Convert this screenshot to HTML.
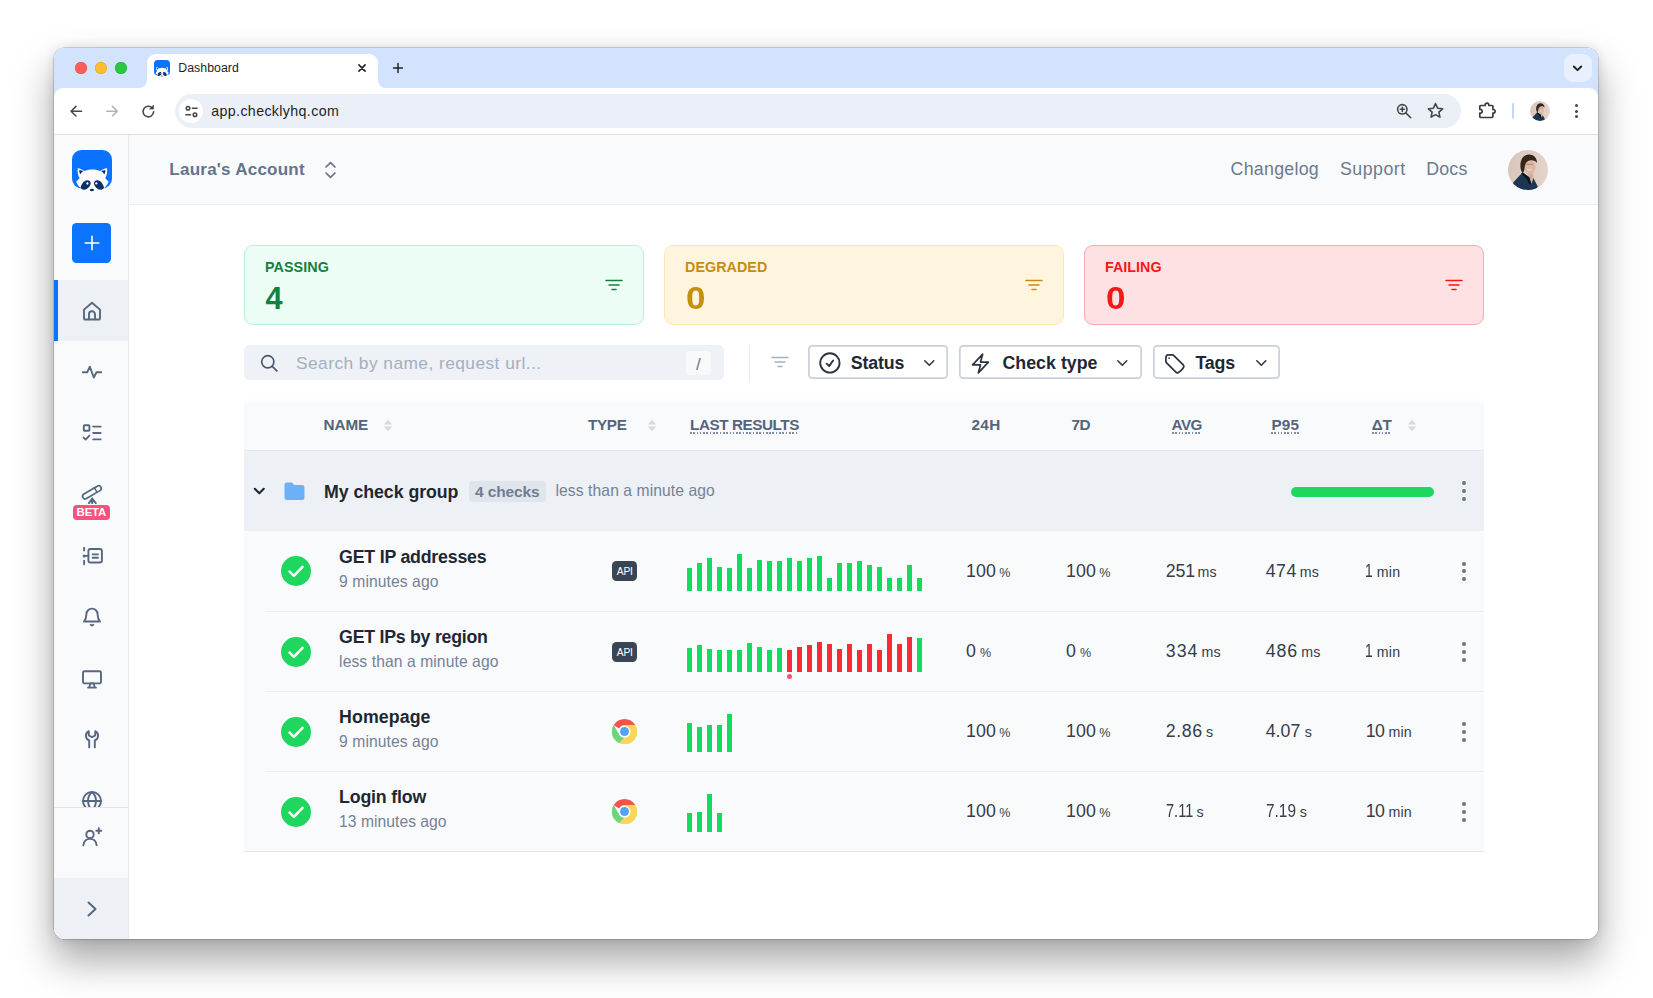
<!DOCTYPE html><html><head><meta charset="utf-8"><title>Dashboard</title><style>

*{box-sizing:border-box;margin:0;padding:0}
html,body{width:1653px;height:998px;overflow:hidden;background:#fff;font-family:"Liberation Sans", sans-serif;}
body{position:relative}
body>div,body>svg,body>span,.a{position:absolute}
.t{position:absolute;white-space:nowrap;line-height:1;}

</style></head><body>
<div style="left:54px;top:48px;width:1544px;height:891px;border-radius:11px;background:#fff;box-shadow:0 0 0 0.5px rgba(0,0,0,.28),0 21px 38px 1px rgba(0,0,0,.34),0 0 12px rgba(0,0,0,.12);"></div>
<div style="left:54px;top:48px;width:1544px;height:891px;border-radius:11px;overflow:hidden;background:#fff;"><div class="a" id="win" style="left:-54px;top:-48px;width:1653px;height:998px;">
<div class="a" style="left:54px;top:47px;width:1544px;height:55px;background:#d3e3fd;"></div>
<div class="a" style="left:54px;top:88px;width:1544px;height:46px;background:#fff;border-radius:9px 9px 0 0;"></div>
<div class="a" style="left:54px;top:134px;width:1544px;height:1px;background:#dddfe3;"></div>
<div class="a" style="left:75px;top:62px;width:12px;height:12px;border-radius:50%;background:#fe5f57;box-shadow:inset 0 0 0 .5px #e2463f;"></div>
<div class="a" style="left:95px;top:62px;width:12px;height:12px;border-radius:50%;background:#febc2e;box-shadow:inset 0 0 0 .5px #dfa023;"></div>
<div class="a" style="left:115px;top:62px;width:12px;height:12px;border-radius:50%;background:#28c840;box-shadow:inset 0 0 0 .5px #1dab2f;"></div>
<div class="a" style="left:146.5px;top:54px;width:231.5px;height:34px;background:#fff;border-radius:9px 9px 0 0;"></div>
<svg class="a" style="left:138.5px;top:80px;" width="8" height="8" viewBox="0 0 8 8" fill="none"><path d="M8 0v8H0a8 8 0 0 0 8-8z" fill="#fff"/></svg>
<svg class="a" style="left:378px;top:80px;" width="8" height="8" viewBox="0 0 8 8" fill="none"><path d="M0 0v8h8a8 8 0 0 1-8-8z" fill="#fff"/></svg>
<svg class="a" style="left:154px;top:60px;" width="16" height="16.8" viewBox="0 0 40 42" fill="none"><rect width="40" height="38.3" rx="9.5" fill="#0b72ff"/>
<path d="M5.600 18.200C7.500 18 10.500 19.600 12.200 21c2.300-1.100 5.100-1.600 8.100-1.600s5.800.5 8.100 1.600c1.700-1.400 4.700-3 6.600-2.800.6 3.300-.2 7.300-1.800 10l3.400 3.600c-1.100 2.700-2.800 5-4.800 6.800l-7.100 3.700h-8.400l-7.300-3.700c-2-1.800-3.700-4.100-4.800-6.800l3.400-3.600c-1.600-2.700-2.400-6.700-1.800-10z" fill="#fff"/>
<path d="M7.300 19.900l4.300 1c-1.600.9-2.600 2.100-3.300 3.400-.8-1.300-1.100-2.900-1-4.400zM33.300 19.900l-4.300 1c1.600.9 2.600 2.100 3.300 3.400.8-1.300 1.100-2.900 1-4.400z" fill="#0a2f6b"/>
<path d="M8.500 37.900c.7-3.800 3.400-7.500 6.800-7.700 2.100-.1 3.500 1.400 3.400 3.300-.2 2.500-2.700 4.700-4.900 6.100l-2.900.1zM32.100 37.900c-.7-3.800-3.400-7.500-6.800-7.700-2.100-.1-3.500 1.400-3.400 3.300.2 2.500 2.700 4.700 4.900 6.100l2.900.1z" fill="#0a2f6b"/>
<circle cx="15.400" cy="33.500" r="1.150" fill="#fff"/><circle cx="24.300" cy="33.400" r="1.150" fill="#fff"/>
<ellipse cx="19.900" cy="40.100" rx="2.100" ry="1.250" fill="#0a2f6b"/></svg>
<svg class="a" style="left:357.2px;top:63.3px;" width="10" height="10" viewBox="0 0 12 12" fill="none"><path d="M2.300 2.300l7.400 7.400M9.700 2.300l-7.400 7.400" stroke="#1f1f1f" stroke-width="1.900" stroke-linecap="round"/></svg>
<svg class="a" style="left:392px;top:62.1px;" width="12" height="12" viewBox="0 0 14 14" fill="none"><path d="M7 1.800v10.400M1.800 7h10.400" stroke="#1f1f1f" stroke-width="1.700" stroke-linecap="round"/></svg>
<div class="a" style="left:1564px;top:54px;width:28px;height:28px;border-radius:9px;background:#e8effd;"></div>
<svg class="a" style="left:1572.3px;top:63.7px;" width="11" height="9" viewBox="0 0 11 9" fill="none"><path d="M1.800 2.500L5.500 6.200 9.200 2.500" stroke="#1f1f1f" stroke-width="1.900" stroke-linecap="round" stroke-linejoin="round"/></svg>
<svg class="a" style="left:68.8px;top:103.8px;" width="14.4" height="14.4" viewBox="0 0 16 16" fill="none"><path d="M14 8H2.500M7.700 2.600L2.300 8l5.400 5.400" stroke="#474747" stroke-width="1.700" stroke-linecap="round" stroke-linejoin="round"/></svg>
<svg class="a" style="left:104.6px;top:103.8px;" width="14.4" height="14.4" viewBox="0 0 16 16" fill="none"><path d="M2 8h11.500M8.300 2.600L13.700 8l-5.400 5.400" stroke="#b4b4b4" stroke-width="1.700" stroke-linecap="round" stroke-linejoin="round"/></svg>
<svg class="a" style="left:139.7px;top:102.6px;" width="17" height="17" viewBox="0 0 18 18" fill="none"><path d="M14.400 9.300A5.600 5.600 0 1 1 12.700 5" stroke="#474747" stroke-width="1.700" stroke-linecap="round" stroke-linejoin="round"/><path d="M14.300 2.300v4.100h-4.100z" fill="#474747" stroke="#474747" stroke-width=".8" stroke-linejoin="round"/></svg>
<div class="a" style="left:175px;top:94px;width:1285.5px;height:34px;border-radius:17px;background:#eaeff8;"></div>
<div class="a" style="left:179px;top:99px;width:24px;height:24px;border-radius:50%;background:#fff;"></div>
<svg class="a" style="left:183.5px;top:103.5px;" width="15" height="15" viewBox="0 0 16 16" fill="none"><g stroke="#474747" stroke-width="1.650" stroke-linecap="round"><circle cx="4.300" cy="4.600" r="1.900"/><path d="M9 4.600h5"/><circle cx="11.700" cy="11.400" r="1.900"/><path d="M2 11.400h5"/></g></svg>
<svg class="a" style="left:1395px;top:102px;" width="18" height="18" viewBox="0 0 18 18" fill="none"><g stroke="#474747" stroke-width="1.600" stroke-linecap="round"><circle cx="7.300" cy="7.300" r="4.700"/><path d="M10.900 10.900l4.800 4.800M7.300 5.200v4.200M5.200 7.300h4.200"/></g></svg>
<svg class="a" style="left:1426px;top:101px;" width="19" height="19" viewBox="0 0 19 19" fill="none"><path d="M9.500 2.600l2.100 4.600 5 .6-3.700 3.400 1 4.900-4.400-2.500-4.400 2.500 1-4.900L2.400 7.800l5-.6z" stroke="#474747" stroke-width="1.600" stroke-linejoin="round"/></svg>
<svg class="a" style="left:1477px;top:101px;" width="20" height="20" viewBox="0 0 20 20" fill="none"><path d="M8.200 3.900a1.800 1.800 0 0 1 3.600 0v.6h3.200a.9.900 0 0 1 .9.900v3.100h.4a1.800 1.800 0 0 1 0 3.600h-.4v3.500a.9.900 0 0 1-.9.900H3.700a.9.900 0 0 1-.9-.9v-3.400h.5a1.900 1.900 0 0 0 0-3.800h-.5V5.400a.9.900 0 0 1 .9-.9h4.500z" stroke="#3c3c3c" stroke-width="1.700" stroke-linejoin="round"/></svg>
<div class="a" style="left:1512px;top:103px;width:1.5px;height:16px;background:#c6d7f5;border-radius:1px;"></div>
<svg class="a" style="left:1530px;top:101px;" width="20" height="20" viewBox="0 0 40 40" fill="none"><defs><clipPath id="c1"><circle cx="20" cy="20" r="20"/></clipPath><linearGradient id="gc1" x1="0" x2="1" y1="0" y2="0"><stop offset="0" stop-color="#d9c6bb"/><stop offset="1" stop-color="#e4d4ca"/></linearGradient><filter id="fc1" x="-10%" y="-10%" width="120%" height="120%"><feGaussianBlur stdDeviation=".45"/></filter></defs>
<g clip-path="url(#c1)"><rect width="40" height="40" fill="url(#gc1)"/><g filter="url(#fc1)">
<path d="M3 35L14.400 22.500l6.800 4.900 2.100 6.300 2.100-5.700 4.400 8.500L27 42H3z" fill="#1d3551"/>
<path d="M19.300 21.500l5.300.8.800 5.700-2.100 5.700-2.100-6.300z" fill="#d7ab99"/>
<path d="M13.400 23.600l1.200-1.300 6.800 4.900 1.900 6.300-1.300 1.600-4-6.600z" fill="#10181f"/>
<ellipse cx="21.400" cy="16.600" rx="6.200" ry="7.700" fill="#deb6a5"/>
<path d="M12.700 19c-1.400-7.200 1.600-14.200 7.600-14.600 5.400-.2 8.900 3.600 8.700 8.600-1.300-1.900-3.600-2.900-6.200-2.700-3.200.3-5.500 2.500-6 5.900-.3 3-.7 5.400-1.900 6.700-1-.8-1.900-2.300-2.200-3.900z" fill="#36271f"/>
<path d="M17.600 14.300h7.600" stroke="#7a5548" stroke-width=".9" opacity=".5"/><path d="M18.900 19.300q2.600 1.700 4.900 0" stroke="#fff" stroke-width="1" opacity=".65" fill="none"/>
</g></g></svg>
<div class="a" style="left:1574.5px;top:103.7px;width:3px;height:3px;border-radius:50%;background:#474747;"></div>
<div class="a" style="left:1574.5px;top:109.5px;width:3px;height:3px;border-radius:50%;background:#474747;"></div>
<div class="a" style="left:1574.5px;top:115.3px;width:3px;height:3px;border-radius:50%;background:#474747;"></div>
<div class="a" style="left:54px;top:135px;width:74px;height:804px;background:#f8fafc;"></div>
<div class="a" style="left:128px;top:135px;width:1px;height:804px;background:#e5e8ec;"></div>
<svg class="a" style="left:71.5px;top:150px;" width="40" height="42" viewBox="0 0 40 42" fill="none"><rect width="40" height="38.3" rx="9.5" fill="#0b72ff"/>
<path d="M5.600 18.200C7.500 18 10.500 19.600 12.200 21c2.300-1.100 5.100-1.600 8.100-1.600s5.800.5 8.100 1.600c1.700-1.400 4.700-3 6.600-2.800.6 3.300-.2 7.300-1.800 10l3.400 3.600c-1.100 2.700-2.800 5-4.800 6.800l-7.100 3.700h-8.400l-7.300-3.700c-2-1.800-3.700-4.100-4.800-6.800l3.400-3.600c-1.600-2.700-2.400-6.700-1.800-10z" fill="#fff"/>
<path d="M7.300 19.900l4.300 1c-1.600.9-2.600 2.100-3.300 3.400-.8-1.300-1.100-2.900-1-4.400zM33.300 19.900l-4.300 1c1.600.9 2.600 2.100 3.300 3.400.8-1.300 1.100-2.900 1-4.400z" fill="#0a2f6b"/>
<path d="M8.500 37.900c.7-3.800 3.400-7.500 6.800-7.700 2.100-.1 3.500 1.400 3.400 3.300-.2 2.500-2.700 4.700-4.900 6.100l-2.900.1zM32.100 37.900c-.7-3.800-3.400-7.500-6.800-7.700-2.100-.1-3.500 1.400-3.400 3.300.2 2.500 2.700 4.700 4.900 6.100l2.900.1z" fill="#0a2f6b"/>
<circle cx="15.400" cy="33.500" r="1.150" fill="#fff"/><circle cx="24.300" cy="33.400" r="1.150" fill="#fff"/>
<ellipse cx="19.900" cy="40.100" rx="2.100" ry="1.250" fill="#0a2f6b"/></svg>
<div class="a" style="left:72px;top:223px;width:39px;height:40px;border-radius:4.5px;background:#0b74ff;"></div>
<svg class="a" style="left:83.5px;top:235px;" width="16" height="16" viewBox="0 0 16 16" fill="none"><path d="M8 1.200v13.600M1.200 8h13.600" stroke="#fff" stroke-width="1.600" stroke-linecap="round"/></svg>
<div class="a" style="left:54px;top:280px;width:74px;height:61px;background:#edf0f4;"></div>
<div class="a" style="left:54px;top:280px;width:4px;height:61px;background:#0b74ff;"></div>
<svg class="a" style="left:80.7px;top:299.7px;" width="22" height="22" viewBox="0 0 22 22" fill="none"><path d="M3 9.600L11 2.800l8 6.800v8.300a1.600 1.600 0 0 1-1.600 1.600H4.600A1.600 1.600 0 0 1 3 17.900z" stroke="#576780" stroke-width="1.900" stroke-linecap="round" stroke-linejoin="round"/><path d="M8 19.300v-5.100a3 3 0 0 1 6 0v5.100" stroke="#576780" stroke-width="1.900" stroke-linecap="round" stroke-linejoin="round"/></svg>
<svg class="a" style="left:80.7px;top:361.0px;" width="22" height="22" viewBox="0 0 22 22" fill="none"><path d="M1.800 11.300h4.400l2.600-5.600 4 10.800 2.700-5.200h4.700" stroke="#576780" stroke-width="1.900" stroke-linecap="round" stroke-linejoin="round"/></svg>
<svg class="a" style="left:80.7px;top:422.3px;" width="22" height="22" viewBox="0 0 22 22" fill="none"><rect x="2.800" y="3.200" width="5.600" height="5.600" rx=".8" stroke="#576780" stroke-width="1.900" stroke-linecap="round" stroke-linejoin="round"/><path d="M2.600 15.600l2 2 3.800-4M12.200 4.600h7.400M12.200 11h7.400M12.200 17.400h7.400" stroke="#576780" stroke-width="1.900" stroke-linecap="round" stroke-linejoin="round"/></svg>
<svg class="a" style="left:80.7px;top:481.5px;" width="22" height="22" viewBox="0 0 22 22" fill="none"><path d="M4.200 14.300L17.600 6.400" stroke="#576780" stroke-width="6.900" stroke-linecap="round"/><path d="M4.200 14.300L17.600 6.400" stroke="#f8fafc" stroke-width="3.500" stroke-linecap="round"/><path d="M13.300 5.600l2.500 4.300" stroke="#576780" stroke-width="1.500" stroke-linecap="round"/><path d="M11.200 16.400v5.100M11.200 16.600l-3.300 4.500M11.200 16.600l3.600 4.500" stroke="#576780" stroke-width="1.900" stroke-linecap="round" stroke-linejoin="round"/></svg>
<div class="a" style="left:73px;top:505px;width:37px;height:14.5px;border-radius:4px;background:#f8507f;"></div>
<svg class="a" style="left:80.7px;top:544.8px;" width="22" height="22" viewBox="0 0 22 22" fill="none"><rect x="7.400" y="4" width="13.500" height="13.500" rx="2" stroke="#576780" stroke-width="1.900" stroke-linecap="round" stroke-linejoin="round"/><path d="M11.700 9.400h5.300M11.700 12.700h5.300M3.100 2.800v2.800M3.100 15.600v3.600M4 10.900h3.400" stroke="#576780" stroke-width="1.900" stroke-linecap="round" stroke-linejoin="round"/><circle cx="3.100" cy="10.900" r="1.500" fill="#576780"/></svg>
<svg class="a" style="left:80.7px;top:605.7px;" width="22" height="22" viewBox="0 0 22 22" fill="none"><path d="M11 2.600a5.600 5.600 0 0 0-5.600 5.600c0 3.900-1.200 5.800-2.400 7.300h16c-1.200-1.500-2.400-3.400-2.400-7.300A5.600 5.600 0 0 0 11 2.600z" stroke="#576780" stroke-width="1.900" stroke-linecap="round" stroke-linejoin="round"/><path d="M9.800 18.800a1.400 1.400 0 0 0 2.400 0" stroke="#576780" stroke-width="1.900" stroke-linecap="round" stroke-linejoin="round"/></svg>
<svg class="a" style="left:80.7px;top:667.6px;" width="22" height="22" viewBox="0 0 22 22" fill="none"><rect x="2" y="3.200" width="18" height="12.200" rx="1.500" stroke="#576780" stroke-width="1.900" stroke-linecap="round" stroke-linejoin="round"/><path d="M8.200 19.600l1.200-4.200h3.200l1.200 4.200zM7 19.600h8" stroke="#576780" stroke-width="1.900" stroke-linecap="round" stroke-linejoin="round"/></svg>
<svg class="a" style="left:80.7px;top:727.8px;" width="22" height="22" viewBox="0 0 22 22" fill="none"><path d="M7.800 3.200a5 5 0 0 0 .4 9.200v7M14.200 3.200a5 5 0 0 1-.4 9.200v7M7.800 3.200v4.300l3.200 1.700 3.200-1.700V3.200" stroke="#576780" stroke-width="1.900" stroke-linecap="round" stroke-linejoin="round"/></svg>
<div class="a" style="left:54px;top:780px;width:74px;height:27px;overflow:hidden;">
<svg class="a" style="left:26.700000000000003px;top:10px;" width="22" height="22" viewBox="0 0 22 22" fill="none"><circle cx="11" cy="11" r="9" stroke="#576780" stroke-width="1.900" stroke-linecap="round" stroke-linejoin="round"/><path d="M2 11h18M11 2c2.800 2.400 4 5.600 4 9s-1.200 6.600-4 9c-2.800-2.400-4-5.600-4-9s1.200-6.600 4-9z" stroke="#576780" stroke-width="1.900" stroke-linecap="round" stroke-linejoin="round"/></svg>
</div>
<div class="a" style="left:54px;top:807px;width:74px;height:1px;background:#e2e6ea;"></div>
<svg class="a" style="left:80.7px;top:826.3px;" width="22" height="22" viewBox="0 0 22 22" fill="none"><circle cx="9" cy="8.400" r="3.700" stroke="#576780" stroke-width="1.900" stroke-linecap="round" stroke-linejoin="round"/><path d="M2.400 19.200c.5-4 3.200-6.300 6.600-6.300s6.100 2.300 6.600 6.300M17.800 2.200v5M15.300 4.700h5" stroke="#576780" stroke-width="1.900" stroke-linecap="round" stroke-linejoin="round"/></svg>
<div class="a" style="left:54px;top:878px;width:74px;height:61px;background:#edf0f4;"></div>
<svg class="a" style="left:86.4px;top:900.4px;" width="12" height="18" viewBox="0 0 12 18" fill="none"><path d="M2.500 2.500L9.500 9l-7 6.500" stroke="#576780" stroke-width="2" stroke-linecap="round" stroke-linejoin="round"/></svg>
<div class="a" style="left:129px;top:135px;width:1469px;height:69px;background:#f9fafb;"></div>
<div class="a" style="left:129px;top:204px;width:1469px;height:1px;background:#eceef1;"></div>
<svg class="a" style="left:324px;top:160px;" width="13" height="20" viewBox="0 0 13 20" fill="none"><path d="M2 7l4.500-4.300L11 7M2 13l4.500 4.300L11 13" stroke="#64748b" stroke-width="1.700" stroke-linecap="round" stroke-linejoin="round"/></svg>
<svg class="a" style="left:1508px;top:150px;" width="40" height="40" viewBox="0 0 40 40" fill="none"><defs><clipPath id="c2"><circle cx="20" cy="20" r="20"/></clipPath><linearGradient id="gc2" x1="0" x2="1" y1="0" y2="0"><stop offset="0" stop-color="#d9c6bb"/><stop offset="1" stop-color="#e4d4ca"/></linearGradient><filter id="fc2" x="-10%" y="-10%" width="120%" height="120%"><feGaussianBlur stdDeviation=".45"/></filter></defs>
<g clip-path="url(#c2)"><rect width="40" height="40" fill="url(#gc2)"/><g filter="url(#fc2)">
<path d="M3 35L14.400 22.500l6.800 4.900 2.100 6.300 2.100-5.700 4.400 8.500L27 42H3z" fill="#1d3551"/>
<path d="M19.300 21.500l5.300.8.800 5.700-2.100 5.700-2.100-6.300z" fill="#d7ab99"/>
<path d="M13.400 23.600l1.200-1.300 6.800 4.900 1.900 6.300-1.300 1.600-4-6.600z" fill="#10181f"/>
<ellipse cx="21.400" cy="16.600" rx="6.200" ry="7.700" fill="#deb6a5"/>
<path d="M12.700 19c-1.400-7.200 1.600-14.200 7.600-14.600 5.400-.2 8.900 3.600 8.700 8.600-1.300-1.900-3.600-2.900-6.200-2.700-3.200.3-5.500 2.500-6 5.900-.3 3-.7 5.400-1.900 6.700-1-.8-1.900-2.300-2.200-3.900z" fill="#36271f"/>
<path d="M17.600 14.300h7.600" stroke="#7a5548" stroke-width=".9" opacity=".5"/><path d="M18.900 19.300q2.600 1.700 4.900 0" stroke="#fff" stroke-width="1" opacity=".65" fill="none"/>
</g></g></svg>
<div class="a" style="left:244px;top:245px;width:400px;height:80px;border-radius:9px;background:#ecfdf5;border:1px solid #bdeed6;"></div>
<svg class="a" style="left:605px;top:278.5px;" width="18" height="12" viewBox="0 0 18 12" fill="none"><path d="M1 1.500h16M4 6h10M7 10.500h4" stroke="#15803d" stroke-width="1.5" stroke-linecap="round"/></svg>
<div class="a" style="left:664px;top:245px;width:400px;height:80px;border-radius:9px;background:#fff5df;border:1px solid #fde7ae;"></div>
<svg class="a" style="left:1025px;top:278.5px;" width="18" height="12" viewBox="0 0 18 12" fill="none"><path d="M1 1.500h16M4 6h10M7 10.500h4" stroke="#c68e0e" stroke-width="1.5" stroke-linecap="round"/></svg>
<div class="a" style="left:1084px;top:245px;width:400px;height:80px;border-radius:9px;background:#fee2e3;border:1px solid #f9a8ab;"></div>
<svg class="a" style="left:1445px;top:278.5px;" width="18" height="12" viewBox="0 0 18 12" fill="none"><path d="M1 1.500h16M4 6h10M7 10.500h4" stroke="#f91616" stroke-width="1.5" stroke-linecap="round"/></svg>
<div class="a" style="left:244px;top:345px;width:479.5px;height:35.2px;border-radius:5px;background:#eef1f5;"></div>
<svg class="a" style="left:259px;top:352.7px;" width="20" height="20" viewBox="0 0 20 20" fill="none"><circle cx="8.800" cy="8.800" r="6.100" stroke="#4b5a70" stroke-width="1.700"/><path d="M13.600 13.600l4.200 4.200" stroke="#4b5a70" stroke-width="1.700" stroke-linecap="round"/></svg>
<div class="a" style="left:686px;top:350.5px;width:25px;height:24.5px;border-radius:4px;background:#f8f9fb;"></div>
<div class="a" style="left:749px;top:345px;width:1px;height:36px;background:#e9ecef;"></div>
<svg class="a" style="left:770.6px;top:356.3px;" width="18" height="12" viewBox="0 0 18 12" fill="none"><path d="M1 1.500h16M4 6h10M7 10.500h4" stroke="#a5afbd" stroke-width="1.4" stroke-linecap="round"/></svg>
<div class="a" style="left:808.2px;top:345.3px;width:139.8px;height:34px;border-radius:4.500px;background:#fff;box-shadow:inset 0 0 0 1.700px #c9d0da;"></div>
<div class="a" style="left:958.9px;top:345.3px;width:183.6px;height:34px;border-radius:4.500px;background:#fff;box-shadow:inset 0 0 0 1.700px #c9d0da;"></div>
<div class="a" style="left:1153px;top:345.3px;width:126.6px;height:34px;border-radius:4.500px;background:#fff;box-shadow:inset 0 0 0 1.700px #c9d0da;"></div>
<svg class="a" style="left:817.1px;top:350.20000000000005px;" width="25.8" height="25.8" viewBox="0 0 24 24" fill="none"><path d="M9 12.750L11.250 15 15 9.750M21 12a9 9 0 1 1-18 0 9 9 0 0 1 18 0z" stroke="#2a3340" stroke-width="1.750" stroke-linecap="round" stroke-linejoin="round"/></svg>
<svg class="a" style="left:969.4px;top:351.7px;" width="23" height="23" viewBox="0 0 24 24" fill="none"><path d="M3.750 13.500l10.500-11.250L12 10.500h8.250L9.750 21.750 12 13.500H3.750z" stroke="#2a3340" stroke-width="1.750" stroke-linecap="round" stroke-linejoin="round"/></svg>
<svg class="a" style="left:1163.2px;top:351.5px;" width="23.4" height="23.4" viewBox="0 0 24 24" fill="none"><path d="M9.568 3H5.250A2.250 2.250 0 0 0 3 5.250v4.318c0 .597.237 1.170.659 1.591l9.581 9.581c.699.699 1.780.872 2.607.330a18.095 18.095 0 0 0 5.223-5.223c.542-.827.369-1.908-.330-2.607L11.160 3.660A2.250 2.250 0 0 0 9.568 3z" stroke="#2a3340" stroke-width="1.750" stroke-linecap="round" stroke-linejoin="round"/><circle cx="6.200" cy="6.200" r=".9" fill="#2a3340"/></svg>
<svg class="a" style="left:923.2px;top:358.7px;" width="12.6" height="8.1" viewBox="0 0 14 9" fill="none"><path d="M2 2l5 5 5-5" stroke="#2a3340" stroke-width="1.7" stroke-linecap="round" stroke-linejoin="round"/></svg>
<svg class="a" style="left:1116.0px;top:358.7px;" width="12.6" height="8.1" viewBox="0 0 14 9" fill="none"><path d="M2 2l5 5 5-5" stroke="#2a3340" stroke-width="1.7" stroke-linecap="round" stroke-linejoin="round"/></svg>
<svg class="a" style="left:1254.5px;top:358.7px;" width="12.6" height="8.1" viewBox="0 0 14 9" fill="none"><path d="M2 2l5 5 5-5" stroke="#2a3340" stroke-width="1.7" stroke-linecap="round" stroke-linejoin="round"/></svg>
<div class="a" style="left:244px;top:398px;width:1240px;height:52px;background:linear-gradient(#fff,#f9fafc 5px,#f9fafc);"></div>
<div class="a" style="left:244px;top:450px;width:1240px;height:1px;background:#e3e7ec;"></div>
<svg class="a" style="left:383px;top:418.5px;" width="10" height="13" viewBox="0 0 10 13" fill="none"><path d="M5 .8L9.300 5.600H.7zM5 12.200L9.300 7.400H.7z" fill="#d6dbe2"/></svg>
<svg class="a" style="left:647px;top:418.5px;" width="10" height="13" viewBox="0 0 10 13" fill="none"><path d="M5 .8L9.300 5.600H.7zM5 12.200L9.300 7.400H.7z" fill="#d6dbe2"/></svg>
<div class="a" style="left:690px;top:432.3px;width:109px;height:1.5px;background:repeating-linear-gradient(90deg,#7f8da1 0 1.600px,transparent 1.600px 3.300px);"></div>
<div class="a" style="left:1171.6px;top:432.3px;width:30.3px;height:1.5px;background:repeating-linear-gradient(90deg,#7f8da1 0 1.600px,transparent 1.600px 3.300px);"></div>
<div class="a" style="left:1271.4px;top:432.3px;width:27.9px;height:1.5px;background:repeating-linear-gradient(90deg,#7f8da1 0 1.600px,transparent 1.600px 3.300px);"></div>
<div class="a" style="left:1371.8px;top:432.3px;width:19.2px;height:1.5px;background:repeating-linear-gradient(90deg,#7f8da1 0 1.600px,transparent 1.600px 3.300px);"></div>
<svg class="a" style="left:1407px;top:418.5px;" width="10" height="13" viewBox="0 0 10 13" fill="none"><path d="M5 .8L9.300 5.600H.7zM5 12.200L9.300 7.400H.7z" fill="#d6dbe2"/></svg>
<div class="a" style="left:244px;top:451px;width:1240px;height:80px;background:#edf0f4;"></div>
<svg class="a" style="left:252.7px;top:487.0px;" width="12.6" height="8.1" viewBox="0 0 14 9" fill="none"><path d="M2 2l5 5 5-5" stroke="#1f2733" stroke-width="2.3" stroke-linecap="round" stroke-linejoin="round"/></svg>
<svg class="a" style="left:283.5px;top:481.5px;" width="21" height="19" viewBox="0 0 21 19" fill="none"><path d="M.5 2.800A2.300 2.300 0 0 1 2.800.5h4.600a1.800 1.800 0 0 1 1.400.7l1.300 1.700h8.100a2.300 2.300 0 0 1 2.300 2.300v10.500a2.300 2.300 0 0 1-2.300 2.300H2.800a2.300 2.300 0 0 1-2.300-2.300z" fill="#6cb1f7"/></svg>
<div class="a" style="left:469.3px;top:481px;width:76.5px;height:21px;border-radius:4px;background:#e0e5eb;"></div>
<div class="a" style="left:1291px;top:486.8px;width:143.2px;height:10px;border-radius:5px;background:#1fd65f;"></div>
<div class="a" style="left:1461.7px;top:481.0px;width:4px;height:4px;border-radius:50%;background:#6b7280;"></div>
<div class="a" style="left:1461.7px;top:488.8px;width:4px;height:4px;border-radius:50%;background:#6b7280;"></div>
<div class="a" style="left:1461.7px;top:496.6px;width:4px;height:4px;border-radius:50%;background:#6b7280;"></div>
<div class="a" style="left:244px;top:531px;width:1240px;height:320px;background:#f9fafb;"></div>
<div class="a" style="left:265px;top:611px;width:1219px;height:1px;background:#ebedf0;"></div>
<div class="a" style="left:265px;top:691px;width:1219px;height:1px;background:#ebedf0;"></div>
<div class="a" style="left:265px;top:771px;width:1219px;height:1px;background:#ebedf0;"></div>
<div class="a" style="left:244px;top:851px;width:1240px;height:1px;background:#e4e7eb;"></div>
<svg class="a" style="left:281.3px;top:555.7px;" width="30" height="30" viewBox="0 0 30 30" fill="none"><circle cx="15" cy="15" r="15" fill="#1fd65f"/><path d="M8.600 15.600l4.300 4.300 8.600-9" stroke="#fff" stroke-width="2.600" stroke-linecap="round" stroke-linejoin="round"/></svg>
<div class="a" style="left:612px;top:561px;width:25px;height:20px;border-radius:4.500px;background:#3a4554;"></div>
<div class="a" style="left:687px;top:567.5px;width:5px;height:23.0px;background:#11dd5c;"></div>
<div class="a" style="left:697px;top:562.5px;width:5px;height:28.0px;background:#11dd5c;"></div>
<div class="a" style="left:707px;top:557.5px;width:5px;height:33.0px;background:#11dd5c;"></div>
<div class="a" style="left:717px;top:566.5px;width:5px;height:24.0px;background:#11dd5c;"></div>
<div class="a" style="left:727px;top:567.5px;width:5px;height:23.0px;background:#11dd5c;"></div>
<div class="a" style="left:737px;top:554.0px;width:5px;height:36.5px;background:#11dd5c;"></div>
<div class="a" style="left:747px;top:567.5px;width:5px;height:23.0px;background:#11dd5c;"></div>
<div class="a" style="left:757px;top:559.5px;width:5px;height:31.0px;background:#11dd5c;"></div>
<div class="a" style="left:767px;top:560.5px;width:5px;height:30.0px;background:#11dd5c;"></div>
<div class="a" style="left:777px;top:560.5px;width:5px;height:30.0px;background:#11dd5c;"></div>
<div class="a" style="left:787px;top:557.5px;width:5px;height:33.0px;background:#11dd5c;"></div>
<div class="a" style="left:797px;top:560.5px;width:5px;height:30.0px;background:#11dd5c;"></div>
<div class="a" style="left:807px;top:557.5px;width:5px;height:33.0px;background:#11dd5c;"></div>
<div class="a" style="left:817px;top:556.0px;width:5px;height:34.5px;background:#11dd5c;"></div>
<div class="a" style="left:827px;top:577.5px;width:5px;height:13.0px;background:#11dd5c;"></div>
<div class="a" style="left:837px;top:562.5px;width:5px;height:28.0px;background:#11dd5c;"></div>
<div class="a" style="left:847px;top:562.5px;width:5px;height:28.0px;background:#11dd5c;"></div>
<div class="a" style="left:857px;top:560.5px;width:5px;height:30.0px;background:#11dd5c;"></div>
<div class="a" style="left:867px;top:564.5px;width:5px;height:26.0px;background:#11dd5c;"></div>
<div class="a" style="left:877px;top:566.5px;width:5px;height:24.0px;background:#11dd5c;"></div>
<div class="a" style="left:887px;top:577.5px;width:5px;height:13.0px;background:#11dd5c;"></div>
<div class="a" style="left:897px;top:577.5px;width:5px;height:13.0px;background:#11dd5c;"></div>
<div class="a" style="left:907px;top:564.5px;width:5px;height:26.0px;background:#11dd5c;"></div>
<div class="a" style="left:917px;top:577.5px;width:5px;height:13.0px;background:#11dd5c;"></div>
<div class="a" style="left:1461.8px;top:561.5px;width:4px;height:4px;border-radius:50%;background:#6b7280;"></div>
<div class="a" style="left:1461.8px;top:569.3px;width:4px;height:4px;border-radius:50%;background:#6b7280;"></div>
<div class="a" style="left:1461.8px;top:577.0999999999999px;width:4px;height:4px;border-radius:50%;background:#6b7280;"></div>
<svg class="a" style="left:281.3px;top:636.6px;" width="30" height="30" viewBox="0 0 30 30" fill="none"><circle cx="15" cy="15" r="15" fill="#1fd65f"/><path d="M8.600 15.600l4.300 4.300 8.600-9" stroke="#fff" stroke-width="2.600" stroke-linecap="round" stroke-linejoin="round"/></svg>
<div class="a" style="left:612px;top:641.9px;width:25px;height:20px;border-radius:4.500px;background:#3a4554;"></div>
<div class="a" style="left:687px;top:648.0px;width:5px;height:23.5px;background:#11dd5c;"></div>
<div class="a" style="left:697px;top:645.0px;width:5px;height:26.5px;background:#11dd5c;"></div>
<div class="a" style="left:707px;top:649.0px;width:5px;height:22.5px;background:#11dd5c;"></div>
<div class="a" style="left:717px;top:650.0px;width:5px;height:21.5px;background:#11dd5c;"></div>
<div class="a" style="left:727px;top:650.0px;width:5px;height:21.5px;background:#11dd5c;"></div>
<div class="a" style="left:737px;top:650.0px;width:5px;height:21.5px;background:#11dd5c;"></div>
<div class="a" style="left:747px;top:643.0px;width:5px;height:28.5px;background:#11dd5c;"></div>
<div class="a" style="left:757px;top:647.0px;width:5px;height:24.5px;background:#11dd5c;"></div>
<div class="a" style="left:767px;top:650.0px;width:5px;height:21.5px;background:#11dd5c;"></div>
<div class="a" style="left:777px;top:648.0px;width:5px;height:23.5px;background:#11dd5c;"></div>
<div class="a" style="left:787px;top:650.0px;width:5px;height:21.5px;background:#fc2b30;"></div>
<div class="a" style="left:797px;top:647.0px;width:5px;height:24.5px;background:#fc2b30;"></div>
<div class="a" style="left:807px;top:645.0px;width:5px;height:26.5px;background:#fc2b30;"></div>
<div class="a" style="left:817px;top:642.0px;width:5px;height:29.5px;background:#fc2b30;"></div>
<div class="a" style="left:827px;top:644.0px;width:5px;height:27.5px;background:#fc2b30;"></div>
<div class="a" style="left:837px;top:649.0px;width:5px;height:22.5px;background:#fc2b30;"></div>
<div class="a" style="left:847px;top:644.0px;width:5px;height:27.5px;background:#fc2b30;"></div>
<div class="a" style="left:857px;top:650.0px;width:5px;height:21.5px;background:#fc2b30;"></div>
<div class="a" style="left:867px;top:644.0px;width:5px;height:27.5px;background:#fc2b30;"></div>
<div class="a" style="left:877px;top:650.0px;width:5px;height:21.5px;background:#fc2b30;"></div>
<div class="a" style="left:887px;top:634.0px;width:5px;height:37.5px;background:#fc2b30;"></div>
<div class="a" style="left:897px;top:644.0px;width:5px;height:27.5px;background:#fc2b30;"></div>
<div class="a" style="left:907px;top:637.0px;width:5px;height:34.5px;background:#fc2b30;"></div>
<div class="a" style="left:917px;top:638.0px;width:5px;height:33.5px;background:#11dd5c;"></div>
<div class="a" style="left:787px;top:673.9px;width:5px;height:5px;border-radius:50%;background:#f9536b;"></div>
<div class="a" style="left:1461.8px;top:642.3px;width:4px;height:4px;border-radius:50%;background:#6b7280;"></div>
<div class="a" style="left:1461.8px;top:650.0999999999999px;width:4px;height:4px;border-radius:50%;background:#6b7280;"></div>
<div class="a" style="left:1461.8px;top:657.8999999999999px;width:4px;height:4px;border-radius:50%;background:#6b7280;"></div>
<svg class="a" style="left:281.3px;top:716.6px;" width="30" height="30" viewBox="0 0 30 30" fill="none"><circle cx="15" cy="15" r="15" fill="#1fd65f"/><path d="M8.600 15.600l4.300 4.300 8.600-9" stroke="#fff" stroke-width="2.600" stroke-linecap="round" stroke-linejoin="round"/></svg>
<svg class="a" style="left:612px;top:719.4px;" width="25" height="25" viewBox="0 0 24 24" fill="none"><circle cx="12" cy="12" r="12" fill="#fff"/>
<path d="M12 0a12 12 0 0 1 10.390 6H12a6 6 0 0 0-5.200 3L1.610 6A12 12 0 0 1 12 0z" fill="#f2564a"/>
<path d="M1.610 6L6.800 15a6 6 0 0 0 5.200 3l-5.190 5A12 12 0 0 1 1.610 6z" fill="#6fd47c"/>
<path d="M22.390 6A12 12 0 0 1 6.810 23L12 18a6 6 0 0 0 5.200-9H12V6z" fill="#f9d658"/>
<path d="M1.610 6A12 12 0 0 0 6.810 23L12 18a6 6 0 0 1-5.200-3z" fill="#6fd47c"/>
<path d="M22.390 6H12v3a3 3 0 0 1 2.600 1.500L17.200 9a6 6 0 0 1-5.200 9l-5.190 5A12 12 0 0 0 22.390 6z" fill="#f9d658"/>
<circle cx="12" cy="12" r="5.400" fill="#fff"/><circle cx="12" cy="12" r="4.300" fill="#55a2f6"/></svg>
<div class="a" style="left:687px;top:723.0px;width:5px;height:28.5px;background:#11dd5c;"></div>
<div class="a" style="left:697px;top:727.0px;width:5px;height:24.5px;background:#11dd5c;"></div>
<div class="a" style="left:707px;top:725.0px;width:5px;height:26.5px;background:#11dd5c;"></div>
<div class="a" style="left:717px;top:725.0px;width:5px;height:26.5px;background:#11dd5c;"></div>
<div class="a" style="left:727px;top:714.0px;width:5px;height:37.5px;background:#11dd5c;"></div>
<div class="a" style="left:1461.8px;top:722.3px;width:4px;height:4px;border-radius:50%;background:#6b7280;"></div>
<div class="a" style="left:1461.8px;top:730.0999999999999px;width:4px;height:4px;border-radius:50%;background:#6b7280;"></div>
<div class="a" style="left:1461.8px;top:737.8999999999999px;width:4px;height:4px;border-radius:50%;background:#6b7280;"></div>
<svg class="a" style="left:281.3px;top:796.6px;" width="30" height="30" viewBox="0 0 30 30" fill="none"><circle cx="15" cy="15" r="15" fill="#1fd65f"/><path d="M8.600 15.600l4.300 4.300 8.600-9" stroke="#fff" stroke-width="2.600" stroke-linecap="round" stroke-linejoin="round"/></svg>
<svg class="a" style="left:612px;top:799.4px;" width="25" height="25" viewBox="0 0 24 24" fill="none"><circle cx="12" cy="12" r="12" fill="#fff"/>
<path d="M12 0a12 12 0 0 1 10.390 6H12a6 6 0 0 0-5.200 3L1.610 6A12 12 0 0 1 12 0z" fill="#f2564a"/>
<path d="M1.610 6L6.800 15a6 6 0 0 0 5.200 3l-5.190 5A12 12 0 0 1 1.610 6z" fill="#6fd47c"/>
<path d="M22.390 6A12 12 0 0 1 6.810 23L12 18a6 6 0 0 0 5.200-9H12V6z" fill="#f9d658"/>
<path d="M1.610 6A12 12 0 0 0 6.810 23L12 18a6 6 0 0 1-5.200-3z" fill="#6fd47c"/>
<path d="M22.390 6H12v3a3 3 0 0 1 2.600 1.500L17.200 9a6 6 0 0 1-5.200 9l-5.190 5A12 12 0 0 0 22.390 6z" fill="#f9d658"/>
<circle cx="12" cy="12" r="5.400" fill="#fff"/><circle cx="12" cy="12" r="4.300" fill="#55a2f6"/></svg>
<div class="a" style="left:687px;top:813.0px;width:5px;height:18.5px;background:#11dd5c;"></div>
<div class="a" style="left:697px;top:812.0px;width:5px;height:19.5px;background:#11dd5c;"></div>
<div class="a" style="left:707px;top:794.0px;width:5px;height:37.5px;background:#11dd5c;"></div>
<div class="a" style="left:717px;top:813.0px;width:5px;height:18.5px;background:#11dd5c;"></div>
<div class="a" style="left:1461.8px;top:802.3px;width:4px;height:4px;border-radius:50%;background:#6b7280;"></div>
<div class="a" style="left:1461.8px;top:810.0999999999999px;width:4px;height:4px;border-radius:50%;background:#6b7280;"></div>
<div class="a" style="left:1461.8px;top:817.8999999999999px;width:4px;height:4px;border-radius:50%;background:#6b7280;"></div>
</div></div>
<span class="t" style="left:178.3px;top:62.00px;font-size:12.3px;color:#1f1f1f;letter-spacing:0.036px;">Dashboard</span>
<span class="t" style="left:211.3px;top:104.00px;font-size:14.2px;color:#1f1f1f;letter-spacing:0.373px;">app.checklyhq.com</span>
<span class="t" style="left:76.6px;top:507.00px;font-size:11.39px;color:#fff;font-weight:700;letter-spacing:-0.156px;">BETA</span>
<span class="t" style="left:169.3px;top:161.00px;font-size:17.03px;color:#64748b;font-weight:700;letter-spacing:0.239px;">Laura's Account</span>
<span class="t" style="left:1230.6px;top:161.00px;font-size:17.77px;color:#6b7a8d;letter-spacing:0.272px;">Changelog</span>
<span class="t" style="left:1340px;top:161.00px;font-size:17.77px;color:#6b7a8d;letter-spacing:0.481px;">Support</span>
<span class="t" style="left:1426.2px;top:161.00px;font-size:17.77px;color:#6b7a8d;letter-spacing:0.204px;">Docs</span>
<span class="t" style="left:265px;top:260.00px;font-size:14.32px;color:#15803d;font-weight:700;letter-spacing:0.077px;">PASSING</span>
<span class="t" style="left:265.5px;top:284.00px;font-size:30.72px;color:#15803d;font-weight:700;">4</span>
<span class="t" style="left:685px;top:260.00px;font-size:14.32px;color:#c68e0e;font-weight:700;letter-spacing:0.049px;">DEGRADED</span>
<span class="t" style="left:685.5px;top:284.00px;font-size:30.72px;color:#c68e0e;font-weight:700;transform:scaleX(1.140);transform-origin:0 0;">0</span>
<span class="t" style="left:1105px;top:260.00px;font-size:14.32px;color:#f91616;font-weight:700;letter-spacing:0.021px;">FAILING</span>
<span class="t" style="left:1105.5px;top:284.00px;font-size:30.72px;color:#f91616;font-weight:700;transform:scaleX(1.140);transform-origin:0 0;">0</span>
<span class="t" style="left:296px;top:355.00px;font-size:17.35px;color:#a3afbf;letter-spacing:0.439px;">Search by name, request url...</span>
<span class="t" style="left:695.9px;top:356.00px;font-size:17.24px;color:#6b7a8d;">/</span>
<span class="t" style="left:850.8px;top:355.00px;font-size:17.77px;color:#1f2733;font-weight:700;letter-spacing:-0.149px;">Status</span>
<span class="t" style="left:1002.5px;top:355.00px;font-size:17.77px;color:#1f2733;font-weight:700;letter-spacing:0.020px;">Check type</span>
<span class="t" style="left:1195.4px;top:355.00px;font-size:17.77px;color:#1f2733;font-weight:700;letter-spacing:-0.139px;">Tags</span>
<span class="t" style="left:323.6px;top:417.00px;font-size:15.26px;color:#55647a;font-weight:700;letter-spacing:-0.102px;">NAME</span>
<span class="t" style="left:588px;top:417.00px;font-size:15.26px;color:#55647a;font-weight:700;letter-spacing:-0.311px;">TYPE</span>
<span class="t" style="left:690px;top:417.00px;font-size:15.26px;color:#55647a;font-weight:700;letter-spacing:-0.424px;">LAST RESULTS</span>
<span class="t" style="left:971.4px;top:417.00px;font-size:15.26px;color:#55647a;font-weight:700;letter-spacing:0.472px;">24H</span>
<span class="t" style="left:1071.5px;top:417.00px;font-size:15.26px;color:#55647a;font-weight:700;letter-spacing:-0.450px;">7D</span>
<span class="t" style="left:1171.6px;top:417.00px;font-size:15.26px;color:#55647a;font-weight:700;letter-spacing:-0.541px;">AVG</span>
<span class="t" style="left:1271.4px;top:417.00px;font-size:15.26px;color:#55647a;font-weight:700;letter-spacing:0.253px;">P95</span>
<span class="t" style="left:1371.8px;top:417.00px;font-size:15.26px;color:#55647a;font-weight:700;letter-spacing:-0.135px;">&Delta;T</span>
<span class="t" style="left:324px;top:484.00px;font-size:17.77px;color:#1f2733;font-weight:700;letter-spacing:-0.061px;">My check group</span>
<span class="t" style="left:475px;top:484.00px;font-size:15.47px;color:#6e7d93;font-weight:700;letter-spacing:-0.109px;">4 checks</span>
<span class="t" style="left:555.5px;top:483.00px;font-size:15.67px;color:#758296;letter-spacing:0.084px;">less than a minute ago</span>
<span class="t" style="left:339.1px;top:549.00px;font-size:17.77px;color:#1f2733;font-weight:700;letter-spacing:-0.217px;">GET IP addresses</span>
<span class="t" style="left:339.1px;top:574.00px;font-size:15.67px;color:#758296;letter-spacing:0.080px;">9 minutes ago</span>
<span class="t" style="left:616.8px;top:567.00px;font-size:10.24px;color:#fff;letter-spacing:-0.167px;">API</span>
<span class="t" style="left:965.9px;top:563.00px;font-size:17.77px;color:#343d4a;letter-spacing:0.115px;">100</span>
<span class="t" style="left:999.3px;top:567.00px;font-size:12.54px;color:#343d4a;">%</span>
<span class="t" style="left:1065.9px;top:563.00px;font-size:17.77px;color:#343d4a;letter-spacing:0.115px;">100</span>
<span class="t" style="left:1099.3px;top:567.00px;font-size:12.54px;color:#343d4a;">%</span>
<span class="t" style="left:1165.8px;top:563.00px;font-size:17.77px;color:#343d4a;letter-spacing:-0.169px;">251</span>
<span class="t" style="left:1197.3999999999999px;top:565.00px;font-size:14.21px;color:#343d4a;letter-spacing:0.181px;">ms</span>
<span class="t" style="left:1265.7px;top:563.00px;font-size:17.77px;color:#343d4a;letter-spacing:0.481px;">474</span>
<span class="t" style="left:1299.7px;top:565.00px;font-size:14.21px;color:#343d4a;letter-spacing:0.181px;">ms</span>
<span class="t" style="left:1365.7px;top:563.00px;font-size:17.77px;color:#343d4a;transform:scaleX(.780);transform-origin:0 0;margin-left:-1px;">1</span>
<span class="t" style="left:1376.8px;top:565.00px;font-size:14.21px;color:#343d4a;letter-spacing:0.203px;">min</span>
<span class="t" style="left:339.1px;top:629.00px;font-size:17.77px;color:#1f2733;font-weight:700;letter-spacing:-0.266px;">GET IPs by region</span>
<span class="t" style="left:339.1px;top:654.00px;font-size:15.67px;color:#758296;letter-spacing:0.084px;">less than a minute ago</span>
<span class="t" style="left:616.8px;top:648.00px;font-size:10.24px;color:#fff;letter-spacing:-0.167px;">API</span>
<span class="t" style="left:965.9px;top:643.00px;font-size:17.77px;color:#343d4a;">0</span>
<span class="t" style="left:980.0px;top:647.00px;font-size:12.54px;color:#343d4a;">%</span>
<span class="t" style="left:1065.9px;top:643.00px;font-size:17.77px;color:#343d4a;">0</span>
<span class="t" style="left:1080.0px;top:647.00px;font-size:12.54px;color:#343d4a;">%</span>
<span class="t" style="left:1165.8px;top:643.00px;font-size:17.77px;color:#343d4a;letter-spacing:1.015px;">334</span>
<span class="t" style="left:1201.3999999999999px;top:645.00px;font-size:14.21px;color:#343d4a;letter-spacing:0.181px;">ms</span>
<span class="t" style="left:1265.7px;top:643.00px;font-size:17.77px;color:#343d4a;letter-spacing:0.948px;">486</span>
<span class="t" style="left:1301.3px;top:645.00px;font-size:14.21px;color:#343d4a;letter-spacing:0.181px;">ms</span>
<span class="t" style="left:1365.7px;top:643.00px;font-size:17.77px;color:#343d4a;transform:scaleX(.780);transform-origin:0 0;margin-left:-1px;">1</span>
<span class="t" style="left:1376.8px;top:645.00px;font-size:14.21px;color:#343d4a;letter-spacing:0.203px;">min</span>
<span class="t" style="left:339.1px;top:709.00px;font-size:17.77px;color:#1f2733;font-weight:700;letter-spacing:0.084px;">Homepage</span>
<span class="t" style="left:339.1px;top:734.00px;font-size:15.67px;color:#758296;letter-spacing:0.080px;">9 minutes ago</span>
<span class="t" style="left:965.9px;top:723.00px;font-size:17.77px;color:#343d4a;letter-spacing:0.115px;">100</span>
<span class="t" style="left:999.3px;top:727.00px;font-size:12.54px;color:#343d4a;">%</span>
<span class="t" style="left:1065.9px;top:723.00px;font-size:17.77px;color:#343d4a;letter-spacing:0.115px;">100</span>
<span class="t" style="left:1099.3px;top:727.00px;font-size:12.54px;color:#343d4a;">%</span>
<span class="t" style="left:1165.8px;top:723.00px;font-size:17.77px;color:#343d4a;letter-spacing:0.555px;">2.86</span>
<span class="t" style="left:1205.8999999999999px;top:725.00px;font-size:14.21px;color:#343d4a;">s</span>
<span class="t" style="left:1265.7px;top:723.00px;font-size:17.77px;color:#343d4a;letter-spacing:0.030px;">4.07</span>
<span class="t" style="left:1304.8px;top:725.00px;font-size:14.21px;color:#343d4a;">s</span>
<span class="t" style="left:1365.7px;top:723.00px;font-size:17.77px;color:#343d4a;letter-spacing:-0.483px;">10</span>
<span class="t" style="left:1388.5px;top:725.00px;font-size:14.21px;color:#343d4a;letter-spacing:0.103px;">min</span>
<span class="t" style="left:339.1px;top:789.00px;font-size:17.77px;color:#1f2733;font-weight:700;letter-spacing:-0.181px;">Login flow</span>
<span class="t" style="left:339.1px;top:814.00px;font-size:15.67px;color:#758296;letter-spacing:0.031px;">13 minutes ago</span>
<span class="t" style="left:965.9px;top:803.00px;font-size:17.77px;color:#343d4a;letter-spacing:0.115px;">100</span>
<span class="t" style="left:999.3px;top:807.00px;font-size:12.54px;color:#343d4a;">%</span>
<span class="t" style="left:1065.9px;top:803.00px;font-size:17.77px;color:#343d4a;letter-spacing:0.115px;">100</span>
<span class="t" style="left:1099.3px;top:807.00px;font-size:12.54px;color:#343d4a;">%</span>
<span class="t" style="left:1165.8px;top:803.00px;font-size:17.77px;color:#343d4a;transform:scaleX(0.8207);transform-origin:0 0;">7.11</span>
<span class="t" style="left:1196.3999999999999px;top:805.00px;font-size:14.21px;color:#343d4a;">s</span>
<span class="t" style="left:1265.7px;top:803.00px;font-size:17.77px;color:#343d4a;transform:scaleX(0.8676);transform-origin:0 0;">7.19</span>
<span class="t" style="left:1299.7px;top:805.00px;font-size:14.21px;color:#343d4a;">s</span>
<span class="t" style="left:1365.7px;top:803.00px;font-size:17.77px;color:#343d4a;letter-spacing:-0.483px;">10</span>
<span class="t" style="left:1388.5px;top:805.00px;font-size:14.21px;color:#343d4a;letter-spacing:0.103px;">min</span>
</body></html>
